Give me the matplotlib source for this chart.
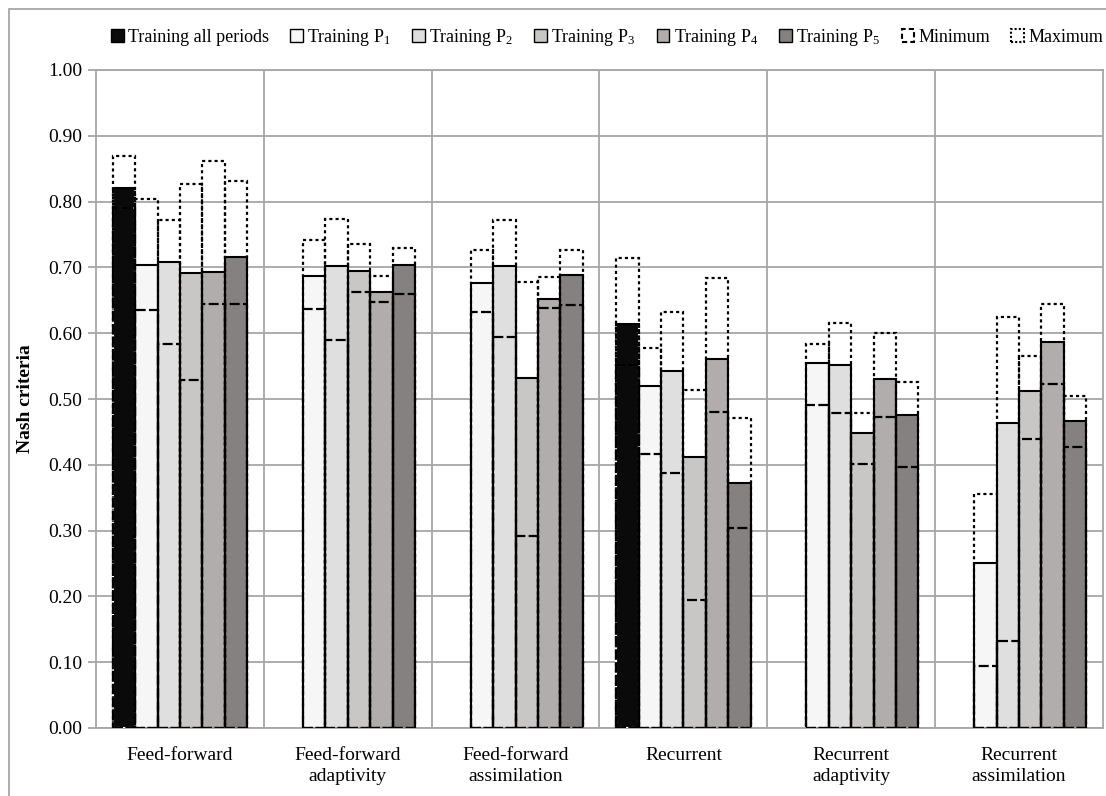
import numpy as np
import matplotlib
matplotlib.use("Agg")
import matplotlib.pyplot as plt
from matplotlib.patches import Patch, Rectangle

plt.rcParams['font.family'] = ['Liberation Serif', 'DejaVu Serif']
plt.rcParams['mathtext.fontset'] = 'custom'
plt.rcParams['mathtext.rm'] = 'Liberation Serif'
plt.rcParams['mathtext.it'] = 'Liberation Serif:italic'

categories = ["Feed-forward", "Feed-forward\nadaptivity", "Feed-forward\nassimilation",
              "Recurrent", "Recurrent\nadaptivity", "Recurrent\nassimilation"]
series_names = ["Training all periods", r"Training P$_{\mathregular{1}}$", r"Training P$_{\mathregular{2}}$",
                r"Training P$_{\mathregular{3}}$", r"Training P$_{\mathregular{4}}$", r"Training P$_{\mathregular{5}}$"]
nan = np.nan
# values per series across categories
values_all = [0.821, nan, nan, 0.614, nan, nan]
values_p1 = [0.703, 0.687, 0.677, 0.519, 0.554, 0.251]
values_p2 = [0.708, 0.702, 0.702, 0.542, 0.551, 0.463]
values_p3 = [0.691, 0.695, 0.532, 0.412, 0.448, 0.512]
values_p4 = [0.693, 0.662, 0.652, 0.561, 0.530, 0.586]
values_p5 = [0.716, 0.703, 0.689, 0.373, 0.475, 0.467]

min_all = [0.791, nan, nan, 0.551, nan, nan]
min_p1 = [0.635, 0.637, 0.632, 0.417, 0.491, 0.094]
min_p2 = [0.584, 0.589, 0.594, 0.388, 0.479, 0.132]
min_p3 = [0.529, 0.662, 0.292, 0.194, 0.401, 0.439]
min_p4 = [0.644, 0.648, 0.638, 0.481, 0.472, 0.523]
min_p5 = [0.644, 0.660, 0.643, 0.304, 0.396, 0.427]

max_all = [0.869, nan, nan, 0.714, nan, nan]
max_p1 = [0.804, 0.742, 0.726, 0.578, 0.583, 0.356]
max_p2 = [0.772, 0.773, 0.772, 0.632, 0.615, 0.625]
max_p3 = [0.826, 0.736, 0.678, 0.514, 0.478, 0.566]
max_p4 = [0.862, 0.687, 0.686, 0.684, 0.601, 0.644]
max_p5 = [0.831, 0.729, 0.726, 0.471, 0.526, 0.504]

ytick_labels = ["0.00", "0.10", "0.20", "0.30", "0.40", "0.50", "0.60", "0.70", "0.80", "0.90", "1.00"]

values = [values_all, values_p1, values_p2, values_p3, values_p4, values_p5]
mins = [min_all, min_p1, min_p2, min_p3, min_p4, min_p5]
maxs = [max_all, max_p1, max_p2, max_p3, max_p4, max_p5]
colors = ["#0a0a0a", "#f5f6f5", "#e0dfe0", "#c8c7c6", "#b0adac", "#858180"]

fig = plt.figure(figsize=(11.06, 7.96), dpi=100)
fig.patches.append(Rectangle((9/1106, -0.1), 1.2, (796-9)/796 + 0.1, transform=fig.transFigure,
                             fill=False, edgecolor="#a0a0a0", lw=1.2))
ax = fig.add_axes([96/1106, 1-728/796, 1007/1106, 658/796])

n = len(categories)
x = np.arange(n)
nser = len(values)
w = 0.8 / nser
grid_c = "#a6a6a6"

for g in np.arange(0, 1.01, 0.1):
    ax.axhline(g, color=grid_c, lw=1.3, zorder=0)
for b in np.arange(0.5, n - 0.5, 1.0):
    ax.axvline(b, color=grid_c, lw=1.3, zorder=0)

for i in range(nser):
    xs = x + (i - (nser - 1) / 2) * w
    v = np.array(values[i], dtype=float)
    mn = np.array(mins[i], dtype=float)
    mx = np.array(maxs[i], dtype=float)
    ok = ~np.isnan(v)
    ax.bar(xs[ok], v[ok], width=w, color=colors[i], edgecolor="black", lw=1.5, zorder=2)
    if i == 0:
        # white gaps visible over the black bar
        ax.bar(xs[ok], mx[ok], width=w, fill=False, edgecolor="white", lw=1.5,
               linestyle=(1.5, (1.5, 1.5)), zorder=3)
        ax.bar(xs[ok], mn[ok], width=w, fill=False, edgecolor="white", lw=1.5,
               linestyle=(4.5, (1.5, 4.5)), zorder=3)
    ax.bar(xs[ok], mx[ok], width=w, fill=False, edgecolor="black", lw=1.6,
           linestyle=(0, (1.4, 1.4)), zorder=4)
    ax.bar(xs[ok], mn[ok], width=w, fill=False, edgecolor="black", lw=1.6,
           linestyle=(0, (4.5, 1.5)), zorder=4)

ax.set_xlim(-0.5, n - 0.5)
ax.set_ylim(0, 1.0)
ax.set_yticks(np.arange(0, 1.01, 0.1))
ax.set_yticklabels(ytick_labels, fontsize=14)
ax.set_xticks(x)
ax.set_xticklabels(categories, fontsize=14, linespacing=1.25)
ax.tick_params(axis='x', length=0, pad=14)
ax.tick_params(axis='y', length=6, color=grid_c, width=1.3, pad=4)
for s in ax.spines.values():
    s.set_color(grid_c)
    s.set_linewidth(1.3)
ax.set_ylabel("Nash criteria", fontsize=14, fontweight="bold", labelpad=10)

handles = [Patch(facecolor=c, edgecolor="black", lw=1.0) for c in colors]
handles.append(Patch(facecolor="white", edgecolor="black", lw=1.5, linestyle=(0, (2.5, 1.5))))
handles.append(Patch(facecolor="white", edgecolor="black", lw=1.5, linestyle=(0, (1, 1))))
labels = series_names + ["Minimum", "Maximum"]
fig.legend(handles, labels, loc="center", bbox_to_anchor=(0.549, 1 - 37/796), ncol=8,
           frameon=False, fontsize=13, handlelength=0.7, handleheight=0.7,
           handletextpad=0.25, columnspacing=1.15)

fig.savefig("out.png", dpi=100)
